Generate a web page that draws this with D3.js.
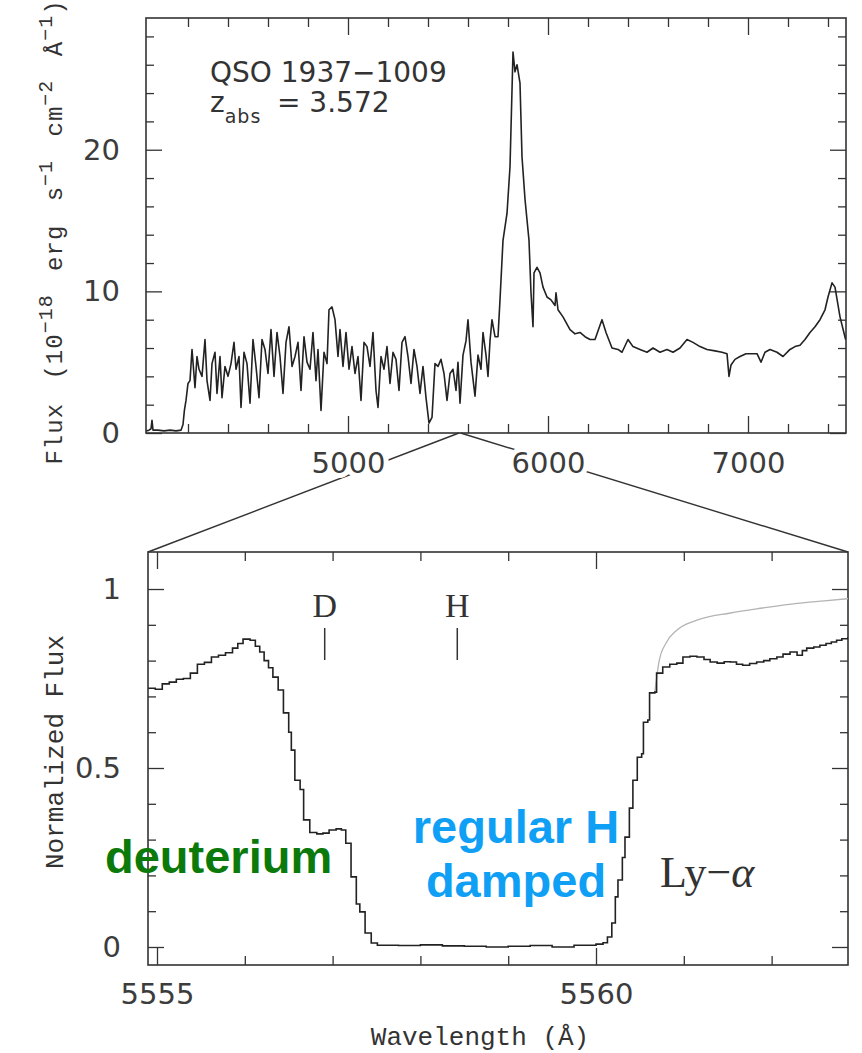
<!DOCTYPE html>
<html>
<head>
<meta charset="utf-8">
<script src="https://cdn.jsdelivr.net/npm/d3@7"></script>
<style>
  body { margin: 0; background: #fff; }
  svg { display: block; }
</style>
</head>
<body>
<svg id="chart" width="862" height="1053"></svg>
<script>
// QSO 1937-1009: full spectrum (wavelength in Å, flux in 1e-18 erg s^-1 cm^-2 Å^-1)
const fullWavelength = [3992,4005,4015,4020,4025,4050,4080,4110,4140,4165,4175,4182,4190,4200,4210,4220,4235,4245,4255,4270,
  4285,4295,4310,4320,4335,4345,4360,4370,4385,4400,4415,4430,4440,4455,4465,4480,4495,4510,4525,4540,
  4555,4570,4585,4600,4615,4630,4645,4660,4675,4690,4705,4720,4735,4750,4765,4780,4795,4810,4825,4840,
  4850,4865,4880,4895,4905,4920,4935,4950,4960,4975,4990,5005,5020,5035,5050,5065,5080,5095,5110,5125,
  5140,5150,5165,5180,5195,5210,5225,5240,5255,5270,5285,5300,5315,5330,5345,5360,5375,5390,5405,5420,
  5435,5450,5465,5480,5495,5510,5525,5540,5550,5560,5575,5590,5600,5615,5635,5650,5665,5675,5690,5700,
  5710,5720,5735,5750,5760,5775,5795,5810,5820,5825,5835,5845,5860,5870,5885,5905,5915,5925,5930,5945,
  5960,5975,5995,6015,6035,6040,6050,6075,6110,6135,6160,6185,6210,6235,6260,6270,6290,6320,6350,6370,
  6400,6425,6460,6495,6525,6560,6595,6625,6660,6695,6725,6760,6795,6835,6870,6895,6905,6915,6935,6960,
  6990,7020,7045,7065,7085,7110,7145,7175,7210,7235,7260,7285,7310,7335,7360,7385,7400,7420,7435,7460,7488];
const fullFlux = [0.15,0.2,0.3,0.9,0.2,0.2,0.15,0.2,0.15,0.2,0.6,1.6,2.3,3.5,3.7,5.9,3.2,5.4,4.5,4.0,
  6.6,3.7,2.3,4.9,5.7,2.8,5.4,2.5,4.7,4.0,4.9,6.4,4.5,5.4,1.8,5.7,4.9,2.1,6.6,4.7,
  2.5,6.6,5.9,4.2,7.3,4.0,7.1,5.4,2.8,6.4,7.5,4.7,5.4,6.4,3.0,6.8,5.0,4.5,7.1,3.7,
  5.9,1.6,5.7,4.9,8.7,8.9,8.0,5.4,7.3,4.7,7.1,4.5,6.1,4.2,5.4,2.3,6.4,6.1,4.7,7.1,
  3.0,1.8,5.4,4.5,6.1,3.5,5.7,5.2,3.0,6.4,6.8,5.4,3.5,5.9,4.7,2.8,4.7,2.5,0.7,1.1,
  4.9,4.7,5.2,4.2,2.3,4.2,4.5,3.0,5.0,2.1,5.5,6.5,8.0,5.0,2.6,5.5,4.5,7.1,5.5,4.0,
  6.5,8.0,6.8,6.8,9.4,13.6,15.5,18.8,24.2,26.9,25.5,26.0,24.7,19.5,16.5,13.6,9.9,7.5,11.3,11.7,
  11.3,10.3,9.6,9.4,9.0,9.9,8.7,8.2,7.3,7.0,7.1,6.8,6.6,6.6,7.6,8.0,7.1,6.0,5.9,5.7,
  6.6,6.1,5.9,5.7,6.0,5.7,5.9,5.7,6.0,6.6,6.4,6.1,5.9,5.8,5.7,5.6,4.0,4.8,5.2,5.4,
  5.6,5.6,5.6,5.0,5.7,5.9,5.7,5.4,5.9,6.1,6.2,6.6,7.1,7.5,8.0,8.7,9.6,10.6,10.3,8.2,6.6];

// Zoom on the absorber: observed profile (step plot, normalized flux)
const zoomWavelength = [5554.90,5554.98,5555.06,5555.14,5555.22,5555.30,5555.38,5555.46,5555.54,5555.62,
  5555.70,5555.78,5555.86,5555.92,5555.98,5556.06,5556.12,5556.17,5556.22,5556.27,
  5556.32,5556.38,5556.44,5556.50,5556.53,5556.57,5556.63,5556.67,5556.74,5556.82,
  5556.89,5556.96,5557.04,5557.10,5557.15,5557.21,5557.27,5557.31,5557.37,5557.44,
  5557.51,5557.75,5558.00,5558.25,5558.50,5558.75,5559.00,5559.25,5559.50,5559.75,
  5560.00,5560.08,5560.13,5560.18,5560.22,5560.25,5560.30,5560.33,5560.38,5560.42,
  5560.47,5560.52,5560.54,5560.59,5560.61,5560.67,5560.69,5560.76,5560.84,5560.92,
  5560.99,5561.07,5561.15,5561.23,5561.30,5561.38,5561.46,5561.53,5561.60,5561.67,
  5561.75,5561.83,5561.91,5561.98,5562.06,5562.13,5562.21,5562.29,5562.35,5562.40,
  5562.48,5562.55,5562.62,5562.68,5562.74,5562.80,5562.87];
const zoomFlux = [0.723,0.72,0.735,0.74,0.748,0.75,0.765,0.79,0.795,0.81,
  0.815,0.822,0.835,0.848,0.86,0.857,0.84,0.824,0.80,0.78,
  0.754,0.718,0.654,0.60,0.55,0.466,0.44,0.355,0.32,0.316,
  0.318,0.327,0.33,0.327,0.29,0.196,0.12,0.098,0.039,0.011,
  0.005,0.004,0.006,0.003,0.002,0.0,0.002,0.004,0.0,0.005,
  0.008,0.012,0.028,0.067,0.14,0.187,0.25,0.307,0.388,0.466,
  0.53,0.54,0.628,0.634,0.71,0.712,0.765,0.782,0.79,0.793,
  0.81,0.812,0.81,0.803,0.796,0.793,0.797,0.796,0.79,0.787,
  0.792,0.796,0.80,0.805,0.81,0.818,0.824,0.815,0.828,0.835,
  0.838,0.843,0.848,0.852,0.857,0.861,0.866];

// Fitted continuum / damped-wing model above the red edge
const modelWavelength = [5560.67,5560.72,5560.80,5560.92,5561.15,5561.53,5561.90,5562.29,5562.60,5562.87];
const modelFlux = [0.712,0.80,0.85,0.885,0.913,0.933,0.947,0.96,0.967,0.973];

// Absorption line positions
const lineNames = ["D", "H"];
const lineWavelengths = [5556.91, 5558.42];

// Labelled ticks
const fullWaveTicks = [5000, 6000, 7000];
const fullFluxTicks = [0, 10, 20];
const zoomWaveTicks = [5555, 5560];
const zoomFluxTicks = [0, 0.5, 1];

const W = 862, H = 1053;
const svg = d3.select("#chart");
svg.append("rect").attr("width", W).attr("height", H).attr("fill", "#fff");

const ink = "#333";
const labelFont = "'DejaVu Sans', sans-serif";
const monoFont = "'Liberation Mono', 'DejaVu Sans Mono', monospace";
const serifFont = "'Liberation Serif', 'DejaVu Serif', serif";

const topBox = { left: 146, right: 846, top: 18, bottom: 433 };
const botBox = { left: 148, right: 848, top: 552, bottom: 965 };

const xFull = d3.scaleLinear().domain([3990, 7490]).range([topBox.left, topBox.right]);
const yFull = d3.scaleLinear().domain([0, 29.3]).range([topBox.bottom, topBox.top]);
const xZoom = d3.scaleLinear().domain([5554.8975, 5562.87]).range([botBox.left, botBox.right]);
const yZoom = d3.scaleLinear().domain([-0.0503, 1.1034]).range([botBox.bottom, botBox.top]);

// Connector lines from the zoomed interval on the full spectrum to the lower panel
const [zLo, zHi] = xZoom.domain();
const conn = svg.append("g").attr("stroke", ink).attr("stroke-width", 1.4);
conn.append("line").attr("x1", xFull(zLo)).attr("y1", topBox.bottom).attr("x2", botBox.left).attr("y2", botBox.top);
conn.append("line").attr("x1", xFull(zHi)).attr("y1", topBox.bottom).attr("x2", botBox.right).attr("y2", botBox.top);

// Draws one side of ticks for a panel
function tickSide(box, orient, scale, values, len, opts = {}) {
  const make = { bottom: d3.axisBottom, top: d3.axisTop, left: d3.axisLeft, right: d3.axisRight }[orient];
  const gen = make(scale).tickValues(values).tickSizeInner(-len).tickSizeOuter(0)
    .tickPadding(opts.pad || 0).tickFormat(opts.fmt || (() => ""));
  const tr = orient === "bottom" ? `translate(0,${box.bottom})`
    : orient === "top" ? `translate(0,${box.top})`
    : orient === "left" ? `translate(${box.left},0)` : `translate(${box.right},0)`;
  const g = svg.append("g").attr("transform", tr).call(gen);
  g.select(".domain").remove();
  g.selectAll("line").attr("stroke", ink).attr("stroke-width", 1.3);
  g.selectAll("text").attr("font-family", labelFont).attr("font-size", 29).attr("fill", "#3c3c3c");
  if (opts.halo) {
    g.selectAll("text").attr("stroke", "#fff").attr("stroke-width", 10)
      .attr("stroke-linejoin", "round").attr("paint-order", "stroke");
  }
  return g;
}

function panelFrame(box, xs, ys, xMajor, xMinor, yMajor, yMinor, xFmt, yFmt, xPad, yPad, halo) {
  tickSide(box, "bottom", xs, xMinor, 9);
  tickSide(box, "top", xs, xMinor, 9);
  tickSide(box, "left", ys, yMinor, 8);
  tickSide(box, "right", ys, yMinor, 8);
  tickSide(box, "bottom", xs, xMajor, 17, { fmt: xFmt, pad: xPad, halo });
  tickSide(box, "top", xs, xMajor, 17);
  tickSide(box, "left", ys, yMajor, 16, { fmt: yFmt, pad: yPad });
  tickSide(box, "right", ys, yMajor, 16);
  svg.append("rect")
    .attr("x", box.left).attr("y", box.top)
    .attr("width", box.right - box.left).attr("height", box.bottom - box.top)
    .attr("fill", "none").attr("stroke", ink).attr("stroke-width", 1.6);
}

// Upper panel: full spectrum
const fullMinor = d3.range(4200, 7500, 200).filter(v => !fullWaveTicks.includes(v));
const fluxMinor = d3.range(2, 29, 2).filter(v => !fullFluxTicks.includes(v));
panelFrame(topBox, xFull, yFull, fullWaveTicks, fullMinor, fullFluxTicks, fluxMinor,
  d3.format("d"), d3.format("d"), 19, 26, true);

svg.append("clipPath").attr("id", "clipTop").append("rect")
  .attr("x", topBox.left).attr("y", topBox.top)
  .attr("width", topBox.right - topBox.left).attr("height", topBox.bottom - topBox.top);

const fullLine = d3.line().x((d, i) => xFull(fullWavelength[i])).y(d => yFull(d));
svg.append("path").datum(fullFlux)
  .attr("clip-path", "url(#clipTop)")
  .attr("d", fullLine).attr("fill", "none")
  .attr("stroke", "#222").attr("stroke-width", 1.6).attr("stroke-linejoin", "round");

// Lower panel: zoom on the damped Ly-alpha absorber
const zoomMinor = d3.range(5556, 5563, 1).filter(v => !zoomWaveTicks.includes(v));
const normMinor = d3.range(1, 11).map(v => v / 10).filter(v => !zoomFluxTicks.includes(v));
panelFrame(botBox, xZoom, yZoom, zoomWaveTicks, zoomMinor, zoomFluxTicks, normMinor,
  d => String(d), d => String(d), 18, 27, false);

svg.append("clipPath").attr("id", "clipBot").append("rect")
  .attr("x", botBox.left).attr("y", botBox.top)
  .attr("width", botBox.right - botBox.left).attr("height", botBox.bottom - botBox.top);

const modelLine = d3.line().curve(d3.curveMonotoneX)
  .x((d, i) => xZoom(modelWavelength[i])).y(d => yZoom(d));
svg.append("path").datum(modelFlux)
  .attr("clip-path", "url(#clipBot)")
  .attr("d", modelLine).attr("fill", "none")
  .attr("stroke", "#b4b4b4").attr("stroke-width", 1.3);

const zoomLine = d3.line().curve(d3.curveStepAfter)
  .x((d, i) => xZoom(zoomWavelength[i])).y(d => yZoom(d));
svg.append("path").datum(zoomFlux)
  .attr("clip-path", "url(#clipBot)")
  .attr("d", zoomLine).attr("fill", "none")
  .attr("stroke", "#222").attr("stroke-width", 1.6);

// Line identifications
const ids = svg.append("g");
lineNames.forEach((name, i) => {
  const x = xZoom(lineWavelengths[i]);
  ids.append("text").attr("x", x).attr("y", 617).attr("text-anchor", "middle")
    .attr("font-family", serifFont).attr("font-size", 34).attr("fill", ink).text(name);
  ids.append("line").attr("x1", x).attr("x2", x).attr("y1", 628).attr("y2", 660)
    .attr("stroke", ink).attr("stroke-width", 1.5);
});

const lya = svg.append("text").attr("x", 660).attr("y", 887)
  .attr("font-family", serifFont).attr("font-size", 44).attr("fill", ink);
lya.append("tspan").text("Ly\u2212");
lya.append("tspan").attr("font-style", "italic").text("\u03b1");

// Object name and absorber redshift
svg.append("text").attr("x", 210).attr("y", 82)
  .attr("font-family", labelFont).attr("font-size", 28).attr("fill", ink)
  .text("QSO 1937\u22121009");
const zt = svg.append("text").attr("x", 210).attr("y", 112)
  .attr("font-family", labelFont).attr("font-size", 28).attr("fill", ink);
zt.append("tspan").text("z");
zt.append("tspan").attr("dy", 11).attr("font-size", 19).attr("letter-spacing", 1).text("abs");
zt.append("tspan").attr("dy", -11).attr("x", 277).text("= 3.572");

// Axis titles
const yTitleTop = svg.append("text")
  .attr("transform", "translate(62,232) rotate(-90)")
  .attr("text-anchor", "middle")
  .attr("font-family", monoFont).attr("font-size", 24).attr("fill", ink)
  .attr("letter-spacing", 1).attr("word-spacing", 8);
yTitleTop.append("tspan").text("Flux (10");
yTitleTop.append("tspan").attr("dy", -10).attr("font-size", 20).text("\u221218");
yTitleTop.append("tspan").attr("dy", 10).text(" erg s");
yTitleTop.append("tspan").attr("dy", -10).attr("font-size", 20).text("\u22121");
yTitleTop.append("tspan").attr("dy", 10).text(" cm");
yTitleTop.append("tspan").attr("dy", -10).attr("font-size", 20).text("\u22122");
yTitleTop.append("tspan").attr("dy", 10).text(" \u00c5");
yTitleTop.append("tspan").attr("dy", -10).attr("font-size", 20).text("\u22121");
yTitleTop.append("tspan").attr("dy", 10).text(")");

svg.append("text")
  .attr("transform", "translate(63,752) rotate(-90)")
  .attr("text-anchor", "middle")
  .attr("font-family", monoFont).attr("font-size", 26).attr("fill", ink)
  .text("Normalized Flux");

svg.append("text").attr("x", 480).attr("y", 1045).attr("text-anchor", "middle")
  .attr("font-family", monoFont).attr("font-size", 26).attr("fill", ink)
  .text("Wavelength (\u00c5)");

// Coloured annotations
const annoFont = "'Liberation Sans', Arial, sans-serif";
svg.append("text").attr("x", 105).attr("y", 873)
  .attr("font-family", annoFont).attr("font-weight", "bold").attr("font-size", 47)
  .attr("fill", "#0b7a0b").text("deuterium");
svg.append("text").attr("x", 516).attr("y", 843).attr("text-anchor", "middle")
  .attr("font-family", annoFont).attr("font-weight", "bold").attr("font-size", 47)
  .attr("fill", "#0fa0f5").text("regular H");
svg.append("text").attr("x", 516).attr("y", 897).attr("text-anchor", "middle")
  .attr("font-family", annoFont).attr("font-weight", "bold").attr("font-size", 47)
  .attr("fill", "#0fa0f5").text("damped");
</script>
</body>
</html>
